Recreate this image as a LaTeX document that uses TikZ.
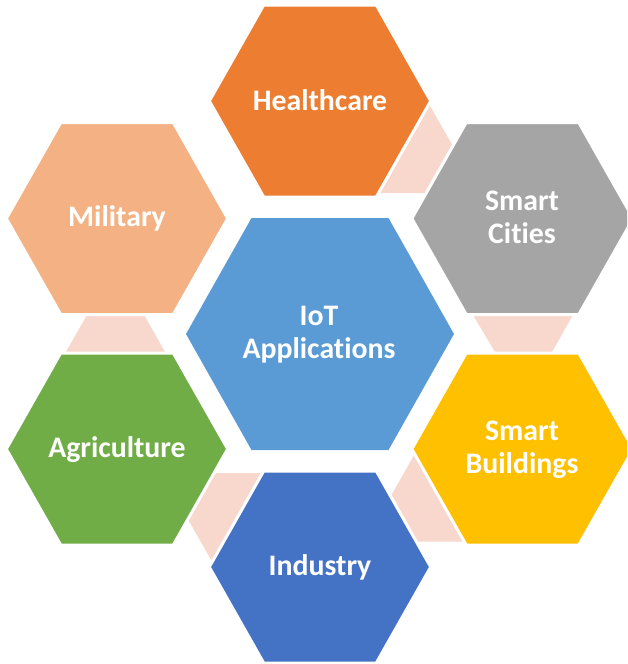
\documentclass[tikz,border=0pt]{standalone}
\usepackage{fontspec}
\setmainfont{Carlito}[Ligatures={NoCommon}]
\definecolor{hcC}{HTML}{ED7D31}
\definecolor{milC}{HTML}{F4B183}
\definecolor{scC}{HTML}{A5A5A5}
\definecolor{iotC}{HTML}{5B9BD5}
\definecolor{sbC}{HTML}{FFC000}
\definecolor{agC}{HTML}{70AD47}
\definecolor{indC}{HTML}{4472C4}
\definecolor{pinkC}{HTML}{F8D7CC}
\tikzset{
  hexbox/.style={draw=white, line width=3pt, line join=miter},
  linkpiece/.style={fill=pinkC},
  lbl/.style={text=white, font=\fontsize{29.8}{33}\selectfont\bfseries, align=center, inner sep=0pt, anchor=base}
}
\newcommand\outerhex[2]{%
  \fill[hexbox, fill=#1, shift={#2}] (-110.7,0) -- (-56.3,-96) -- (56.3,-96) -- (110.7,0) -- (56.3,96) -- (-56.3,96) -- cycle;}
\begin{document}
\begin{tikzpicture}[x=1pt, y=-1pt]
\useasboundingbox (0,0) rectangle (627,664);
\clip (0,0) rectangle (627,664);
% connector pieces
\fill[linkpiece] (428.1,102.6) -- (453.9,147.7) -- (428.1,193) -- (376.4,193) -- cycle;
\fill[linkpiece] (471.8,313) -- (574.1,313) -- (550.6,354.5) -- (496.5,354.5) -- cycle;
\fill[linkpiece] (415.6,452.4) -- (466.4,541.5) -- (414.4,541.5) -- (389.9,497.8) -- cycle;
\fill[linkpiece] (264.7,473) -- (212.3,473) -- (186.9,517.5) -- (213.1,563.3) -- cycle;
\fill[linkpiece] (88.1,313) -- (142.9,313) -- (166.6,354.5) -- (64.4,354.5) -- cycle;
% hexagons
\outerhex{hcC}{(320,101)}
\outerhex{scC}{(522.5,218.5)}
\outerhex{sbC}{(522.5,449)}
\outerhex{indC}{(320,567)}
\outerhex{agC}{(117,449)}
\outerhex{milC}{(117,218.5)}
\fill[fill=iotC, shift={(320,334)}] (-134,0) -- (-68.5,-116) -- (68.5,-116) -- (134,0) -- (68.5,116) -- (-68.5,116) -- cycle;
% labels
\node[lbl] (hc) at (320,110) {Healthcare};
\node[lbl] (sc) at (522,243.3) {Smart\\Cities};
\node[lbl] (sb) at (522,473.3) {Smart\\Buildings};
\node[lbl] (ind) at (320,575) {Industry};
\node[lbl] (ag) at (117,457.3) {Agriculture};
\node[lbl] (mil) at (117,226.7) {Military};
\node[lbl] (iot) at (319,358.3) {IoT\\Applications};
\end{tikzpicture}
\end{document}
